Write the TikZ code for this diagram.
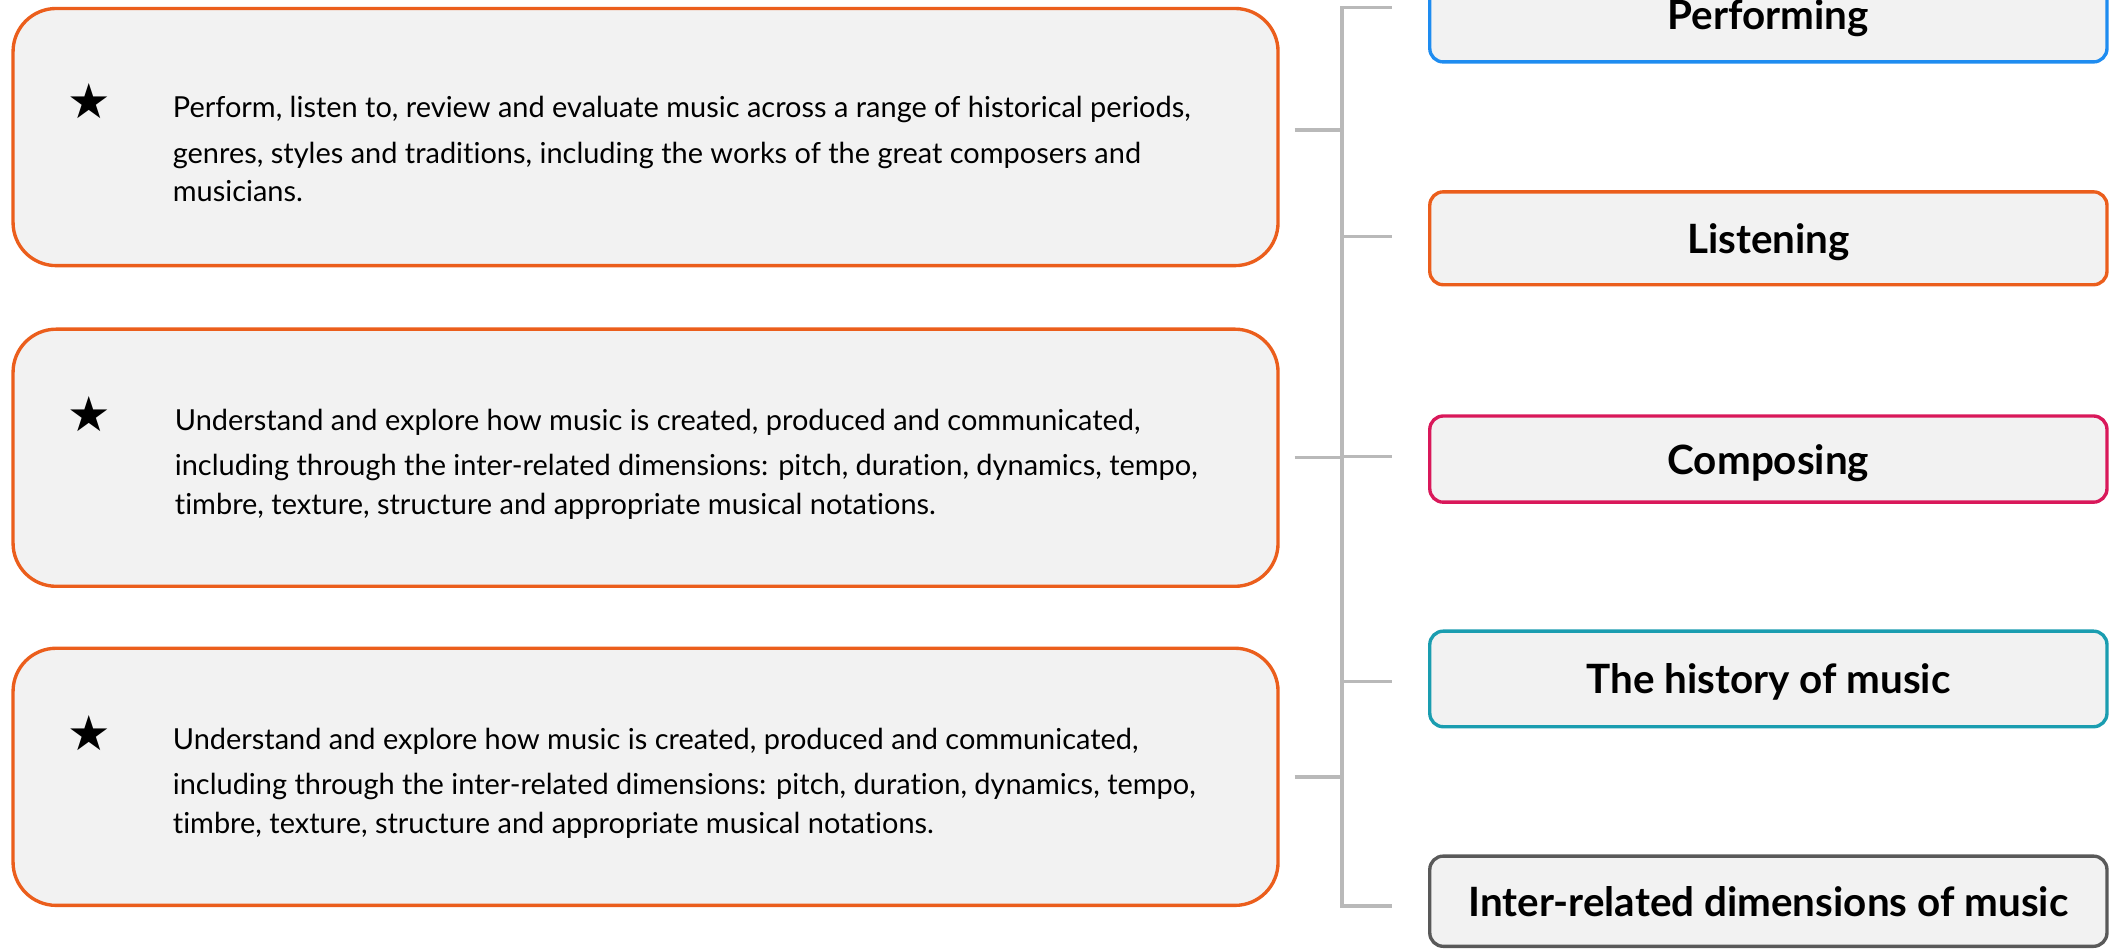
\documentclass[tikz,border=0pt]{standalone}
\usepackage{fontspec}
\setmainfont{Lato}[Ligatures=NoCommon]
\newfontfamily\starfont{DejaVu Sans}
\usepackage{tikz}
\usetikzlibrary{positioning}
\definecolor{aimorange}{HTML}{EB5E1C}
\definecolor{boxfill}{HTML}{F2F2F2}
\definecolor{linkgrey}{HTML}{B9B9B9}
\definecolor{perfblue}{HTML}{1E8CF0}
\definecolor{compred}{HTML}{D9185A}
\definecolor{histteal}{HTML}{1A9DB0}
\definecolor{dimgrey}{HTML}{595959}
\tikzstyle{aim} = [rectangle, rounded corners=16pt, minimum width=469.8pt, minimum height=95.5pt, draw=aimorange, line width=1.25pt, fill=boxfill]
\tikzstyle{aimtext} = [anchor=base west, align=left, inner sep=0pt, font=\fontsize{10.75}{14.25}\selectfont]
\tikzstyle{aimstar} = [inner sep=0pt, font=\starfont\fontsize{18}{18}\selectfont]
\tikzstyle{strand} = [rectangle, rounded corners=5pt, minimum width=251.5pt, text depth=0pt, line width=1.25pt, fill=boxfill, font=\fontsize{15}{18}\selectfont\bfseries]
\tikzstyle{link} = [line width=1.25pt, draw=linkgrey]

\begin{document}
\begin{tikzpicture}[x=0.5pt, y=-0.5pt]
    \useasboundingbox (0,0) rectangle (1568,705.6);
    % aims on the left
    \node[aim] (aim1) at (479.5,101.8) {};
    \node[aim] (aim2) at (479.5,340) {};
    \node[aim] (aim3) at (479.5,577) {};
    \node[aimstar] (star1) at (66.2,75.2) {★};
    \node[aimstar] (star2) at (66.2,307.8) {★};
    \node[aimstar] (star3) at (66.2,544.8) {★};
    \node[aimtext] (text1) at (128,149.8) {Perform, listen to, review and evaluate music across a range of historical periods,\\[2.75pt]
        genres, styles and traditions, including the works of the great composers and\\
        musicians.};
    \node[aimtext] (text2) at (129.5,382) {Understand and explore how music is created, produced and communicated,\\[2.75pt]
        including through the inter-related dimensions: pitch, duration, dynamics, tempo,\\
        timbre, texture, structure and appropriate musical notations.};
    \node[aimtext] (text3) at (128,619) {Understand and explore how music is created, produced and communicated,\\[2.75pt]
        including through the inter-related dimensions: pitch, duration, dynamics, tempo,\\
        timbre, texture, structure and appropriate musical notations.};

    % strands on the right
    \node[strand, draw=perfblue, minimum height=35.5pt] (perf) at (1313.5,10.5) {Performing};
    \node[strand, draw=aimorange, minimum height=34.5pt] (listen) at (1313.5,177) {Listening};
    \node[strand, draw=compred, minimum height=32pt] (comp) at (1313.5,341) {Composing};
    \node[strand, draw=histteal, minimum height=35.5pt] (hist) at (1313.5,504.3) {The history of music};
    \node[strand, draw=dimgrey, minimum height=33.5pt] (dims) at (1313.5,669.4) {Inter-related dimensions of music};

    % the bracket between them
    \coordinate (bustop) at (996.8,5.4);
    \coordinate (busbot) at (996.8,673);
    \draw[link, shorten <=13.5pt, shorten >=13.5pt] (bustop -| perf.west) -- (bustop) -- (busbot) -- (busbot -| dims.west);
    \draw[link, shorten <=5.5pt] ([yshift=2.6pt]aim1.east) -- ([yshift=2.6pt]aim1.east -| bustop);
    \draw[link, shorten <=5.5pt] (aim2.east) -- (aim2.east -| bustop);
    \draw[link, shorten <=5.5pt] (aim3.east) -- (aim3.east -| bustop);
    \draw[link, shorten >=13.5pt] ([yshift=0.6pt]listen.west -| bustop) -- ([yshift=0.6pt]listen.west);
    \draw[link, shorten >=13.5pt] ([yshift=0.9pt]comp.west -| bustop) -- ([yshift=0.9pt]comp.west);
    \draw[link, shorten >=13.5pt] ([yshift=-1pt]hist.west -| bustop) -- ([yshift=-1pt]hist.west);
\end{tikzpicture}
\end{document}
